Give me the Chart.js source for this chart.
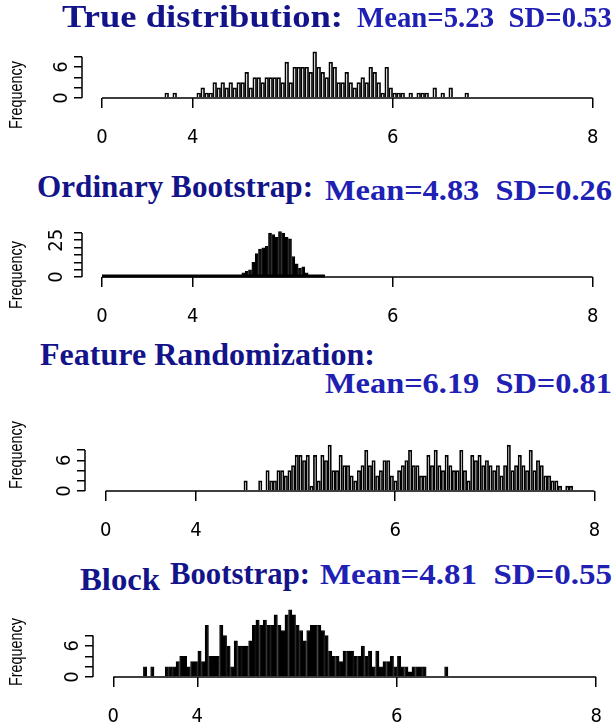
<!DOCTYPE html>
<html>
<head>
<meta charset="utf-8">
<script src="https://cdn.jsdelivr.net/npm/chart.js@4.4.1/dist/chart.umd.min.js"></script>
<style>
  body { margin: 0; background: #fff; width: 614px; height: 727px; position: relative; overflow: hidden; }
  .t { position: absolute; font-family: 'Liberation Serif', 'Times New Roman', serif; font-weight: bold;
       white-space: pre; line-height: 1; transform-origin: 0 0; }
  .freq { position: absolute; font-family: 'Liberation Sans', Arial, sans-serif; font-size: 18px;
          white-space: nowrap; line-height: 1; transform-origin: 0 0; }
  canvas { position: absolute; left: 0; }
</style>
</head>
<body>
<canvas id="c0" width="614" height="125"></canvas>
<canvas id="c1" width="614" height="125"></canvas>
<canvas id="c2" width="614" height="125"></canvas>
<canvas id="c3" width="614" height="125"></canvas>
<script>
// histogram counts
const trueCounts = [1,0,1,0,0,0,0,0,1,2,1,1,3,2,3,2,3,2,3,3,5,2,4,4,3,4,4,4,4,3,
  7,3,6,6,6,6,5,9,6,5,4,7,6,3,3,5,3,2,3,4,3,6,5,3,1,6,2,1,1,1,0,1,0,1,1,1,0,2,0,1,
  0,2,0,0,0,1,0];
const ordinaryCounts = [3,4,5,10,16,19,20,21,30,29,27,31,30,27,26,14,9,6,7,3,1,1,1,1,1];
const featureCounts = [2,0,0,0,2,0,4,2,2,4,4,3,4,5,7,7,6,7,1,7,2,7,6,9,4,4,7,5,5,3,
  2,4,5,8,5,6,3,4,6,6,3,2,4,5,6,8,5,5,3,3,7,5,8,5,4,7,5,4,4,8,4,2,7,6,7,5,6,5,4,5,
  3,5,9,4,5,7,5,4,8,4,6,5,3,3,2,2,1,0,1,1];
const blockCounts = [2,0,2,0,0,0,2,2,2,3,4,4,2,3,3,5,3,10,4,4,4,10,8,6,2,7,6,6,6,7,
  10,11,10,11,10,10,12,10,9,12,13,12,10,9,7,9,10,10,10,9,8,5,4,4,3,5,5,5,4,4,6,4,5,2,
  5,2,3,3,4,2,4,2,2,1,2,2,2,2,0,0,0,0,0,2,0];

// histogram breaks: first break and bin width
const binStart = [3.72, 4.49, 4.48, 3.458];
const binWidth = [0.04, 0.0333, 0.0367, 0.0364];

// axis ticks
const xTickLabels = ['0', '4', '6', '8'];
const xTickValues = [[3.093, 4, 6, 8], [3.093, 4, 6, 8], [3.093, 4, 6, 8], [3.157, 4, 6, 8]];
const yTickValues = [[0, 2, 4, 6, 8], [0, 5, 10, 15, 20, 25, 30], [0, 2, 4, 6, 8], [0, 2, 4, 6, 8]];
const yTickShown = [[0, 6], [0, 25], [0, 6], [0, 6]];

const titleNames = ['True distribution:', 'Ordinary Bootstrap:', 'Feature Randomization:', 'Block Bootstrap:'];
const titleStats = ['Mean=5.23  SD=0.53', 'Mean=4.83  SD=0.26', 'Mean=6.19  SD=0.81', 'Mean=4.81  SD=0.55'];

const allCounts = [trueCounts, ordinaryCounts, featureCounts, blockCounts];

// layout of the four panels (pixels)
const panels = [
  { base: 98,  left: 82, px4: 192.7, ppu: 100,  ymax: 13.6, fill: '#fff', bw: 1.7, freqY: 95, thick: false },
  { base: 277, left: 82, px4: 192.7, ppu: 100,  ymax: 47.6, fill: '#000', bw: 1,   freqY: 275, thick: true },
  { base: 491, left: 85, px4: 196,   ppu: 99.6, ymax: 13.7, fill: '#fff', bw: 1.7, freqY: 455, thick: false },
  { base: 677, left: 93, px4: 197.3, ppu: 99.7, ymax: 13.5, fill: '#000', bw: 1,   freqY: 652, thick: false }
];
const plotH = 70, axisH = 55, plotRight = 612;

// title pieces: text, left, right, baseline, size, colour
const navy = '#13138a', blue = '#2020b4';
const titlePieces = [
  [titleNames[0], 62, 343, 27, 32, navy], [titleStats[0], 357, 612, 27, 30, blue],
  [titleNames[1], 37, 313, 197, 32, navy], [titleStats[1], 325, 612, 200, 30, blue],
  [titleNames[2], 40, 375, 365, 32, navy], [titleStats[2], 325, 612, 393, 30, blue],
  ['Block', 80, 160, 590, 32, navy], ['Bootstrap:', 170, 310, 584, 32, navy],
  [titleStats[3], 320, 612, 584, 30, blue]
];

titlePieces.forEach(([txt, l, r, b, s, col]) => {
  const d = document.createElement('div');
  d.className = 't';
  d.textContent = txt;
  d.style.fontSize = s + 'px';
  d.style.color = col;
  d.style.left = l + 'px';
  d.style.top = (b - 0.8375 * s) + 'px';
  document.body.appendChild(d);
  const w = d.getBoundingClientRect().width;
  d.style.transform = 'scaleX(' + ((r - l) / w) + ')';
});

const axisLines = {
  id: 'axisLines',
  afterDraw(chart, args, opts) {
    const { ctx, scales: { x, y } } = chart;
    const xt = x.ticks, yt = y.ticks;
    const y0 = y.getPixelForValue(0);
    ctx.save();
    ctx.strokeStyle = '#000';
    ctx.lineWidth = 1.5;
    ctx.beginPath();
    ctx.moveTo(x.getPixelForValue(xt[0].value), y0);
    ctx.lineTo(x.getPixelForValue(xt[xt.length - 1].value), y0);
    ctx.moveTo(x.left, y.getPixelForValue(yt[0].value));
    ctx.lineTo(x.left, y.getPixelForValue(yt[yt.length - 1].value));
    ctx.stroke();
    if (opts.thickTo) {
      // zero-count bins drawn over the axis make it heavier
      ctx.lineWidth = 3;
      ctx.beginPath();
      ctx.moveTo(x.getPixelForValue(xt[0].value), y0 - 1);
      ctx.lineTo(x.getPixelForValue(opts.thickTo), y0 - 1);
      ctx.stroke();
    }
    ctx.restore();
  }
};

const tickFont = { family: "'Liberation Sans Narrow', 'DejaVu Sans Condensed', 'Liberation Sans', sans-serif", size: 20 };
const freqLength = 68;

panels.forEach((p, k) => {
  const cv = document.getElementById('c' + k);
  cv.style.top = (p.base - plotH) + 'px';

  const d = document.createElement('div');
  d.className = 'freq';
  d.textContent = 'Frequency';
  document.body.appendChild(d);
  const fw = d.getBoundingClientRect().width;
  d.style.left = '7px';
  d.style.top = (p.freqY + freqLength / 2) + 'px';
  d.style.transform = 'rotate(-90deg) scaleX(' + (freqLength / fw) + ')';

  const counts = allCounts[k];
  const pts = counts.map((c, i) => ({ x: binStart[k] + (i + 0.5) * binWidth[k], y: c }));
  const binEnd = binStart[k] + counts.length * binWidth[k];

  new Chart(cv, {
    type: 'bar',
    data: {
      datasets: [{
        data: pts,
        backgroundColor: p.fill,
        borderColor: '#000',
        borderWidth: p.bw,
        borderSkipped: 'start',
        barPercentage: 1,
        categoryPercentage: 1,
        inflateAmount: 0.2
      }]
    },
    options: {
      responsive: false,
      animation: false,
      events: [],
      layout: { padding: { left: 0, right: 614 - plotRight, top: 0, bottom: 0 } },
      plugins: {
        legend: { display: false },
        tooltip: { enabled: false },
        axisLines: { thickTo: p.thick ? binEnd : null }
      },
      scales: {
        x: {
          type: 'linear',
          offset: false,
          min: 4 - (p.px4 - p.left) / p.ppu,
          max: 4 + (plotRight - p.px4) / p.ppu,
          afterBuildTicks: s => { s.ticks = xTickValues[k].map(v => ({ value: v })); },
          afterFit: s => { s.height = axisH; s.paddingLeft = 0; s.paddingRight = 0; },
          border: { display: false },
          grid: { offset: false, drawOnChartArea: false, drawTicks: true, tickLength: 10, color: '#000', lineWidth: 1.5 },
          ticks: { autoSkip: false, maxRotation: 0, padding: 18, color: '#000', font: tickFont,
                   callback: (v, i) => xTickLabels[i] }
        },
        y: {
          min: 0,
          max: p.ymax,
          afterBuildTicks: s => { s.ticks = yTickValues[k].map(v => ({ value: v })); },
          afterFit: s => { s.width = p.left; s.paddingTop = 0; s.paddingBottom = 0; },
          border: { display: false },
          grid: { drawOnChartArea: false, drawTicks: true, tickLength: 8, color: '#000', lineWidth: 1.5 },
          ticks: { autoSkip: false, minRotation: 90, maxRotation: 90, crossAlign: 'center', padding: 6,
                   color: '#000', font: tickFont,
                   callback: v => yTickShown[k].includes(v) ? String(v) : '' }
        }
      }
    },
    plugins: [axisLines]
  });
});
</script>
</body>
</html>
